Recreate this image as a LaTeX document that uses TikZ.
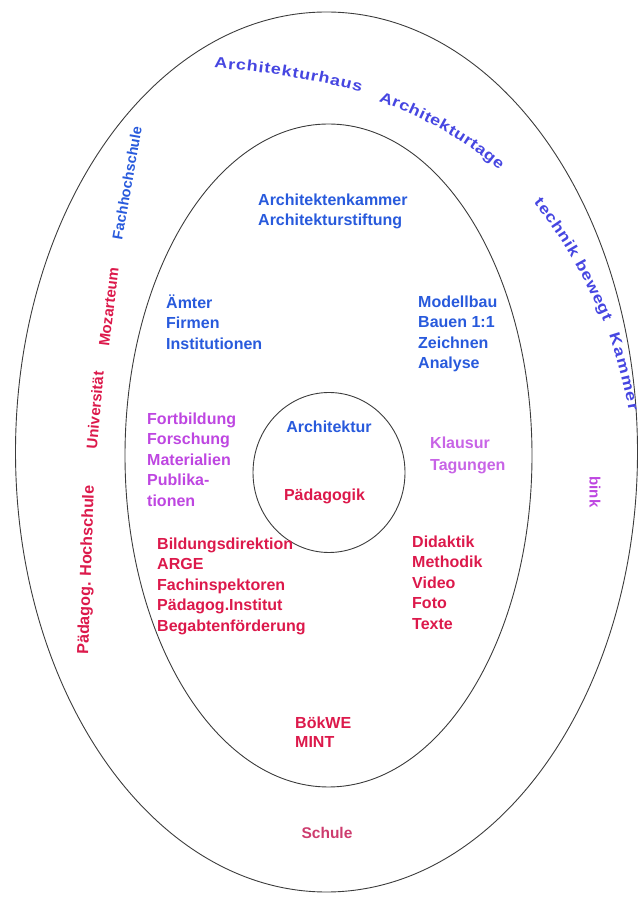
\documentclass[tikz,border=0pt]{standalone}
\usepackage{fontspec}
\setmainfont{Liberation Sans}
\newfontfamily\curvefont[FakeStretch=1.2]{Liberation Sans}
\usetikzlibrary{decorations.text}
\definecolor{ringline}{RGB}{60,60,60}
\definecolor{tblue}{RGB}{40,90,220}
\definecolor{cblue}{RGB}{70,70,225}
\definecolor{tred}{RGB}{220,25,75}
\definecolor{tpurple}{RGB}{190,70,225}
\definecolor{tlilac}{RGB}{200,100,230}
\definecolor{tschule}{RGB}{205,60,110}
\begin{document}
\begin{tikzpicture}[x=1pt,y=1pt,
  ring/.style={draw=ringline, line width=0.9pt},
  block/.style={anchor=north west, inner sep=0pt, align=left, font=\bfseries\fontsize{16}{20.5}\selectfont},
  single/.style={anchor=base, inner sep=0pt, font=\bfseries\fontsize{16}{20}\selectfont},
  side/.style={inner sep=0pt, font=\bfseries\fontsize{15}{15}\selectfont},
  curved/.style={decorate, decoration={text along path, text color=cblue, text align={fit to path}, text={|\curvefont\bfseries\fontsize{15}{15}\selectfont|#1}}}
]
\useasboundingbox (0,0) rectangle (643,897);
% rings
\draw[ring] (326.5,445) ellipse [x radius=311, y radius=440];
\draw[ring] (328.5,441.5) ellipse [x radius=203.5, y radius=331.5];
\draw[ring] (329,424.5) ellipse [x radius=76, y radius=80];
% centre
\node[single, text=tblue] (archi) at (329,464) {Architektur};
\node[single, text=tred] (paed) at (324.5,396) {Pädagogik};
% inner ellipse blocks
\node[block, text=tblue] (kammer) at (258,708) {\rule{0pt}{16pt}Architektenkammer\\Architekturstiftung};
\node[block, text=tblue] (aemter) at (166,605) {\rule{0pt}{16pt}Ämter\\Firmen\\Institutionen};
\node[block, text=tblue] (modell) at (418,606) {\rule{0pt}{16pt}Modellbau\\Bauen 1:1\\Zeichnen\\Analyse};
\node[block, text=tpurple] (fortb) at (147,489) {\rule{0pt}{16pt}Fortbildung\\Forschung\\Materialien\\Publika-\\tionen};
\node[block, text=tlilac, font=\bfseries\fontsize{16}{22.5}\selectfont] (klausur) at (430,465) {\rule{0pt}{16pt}Klausur\\Tagungen};
\node[block, text=tred] (bildung) at (157,364) {\rule{0pt}{16pt}Bildungsdirektion\\ARGE\\Fachinspektoren\\Pädagog.Institut\\Begabtenförderung};
\node[block, text=tred] (didaktik) at (412,366) {\rule{0pt}{16pt}Didaktik\\Methodik\\Video\\Foto\\Texte};
\node[block, text=tred, font=\bfseries\fontsize{16}{19}\selectfont] (boekwe) at (295,185) {\rule{0pt}{16pt}BökWE\\MINT};
% outer band
\node[single, text=tschule, font=\bfseries\fontsize{15.5}{18}\selectfont] (schule) at (327,58) {Schule};
\node[side, text=tred, rotate=85] (uni) at (95,487) {Universität};
\node[side, text=tred, rotate=83] (moz) at (109,590) {Mozarteum};
\node[side, text=tblue, rotate=80, font=\bfseries\fontsize{14.5}{14.5}\selectfont] (fh) at (127,714) {Fachhochschule};
\node[side, text=tred, rotate=88, font=\bfseries\fontsize{16}{16}\selectfont] (ph) at (87,327) {Pädagog. Hochschule};
\node[side, text=tpurple, rotate=-90] (bink) at (595,405) {bink};
% curved texts
\path[curved=Architekturhaus] (214,829) .. controls (264,825.5) and (312.7,817.9) .. (361,805);
\path[curved=Architekturtage] (378.5,795.8) .. controls (421.7,780.1) and (464.8,757.5) .. (499,726.7);
\path[curved={technik bewegt}] (533.6,694.1) .. controls (563.2,658.9) and (585.2,617.2) .. (603.9,575.2);
\path[curved=Kammer] (609,562.3) .. controls (617,537.6) and (623.9,511.6) .. (628.9,486.1);
\end{tikzpicture}
\end{document}
